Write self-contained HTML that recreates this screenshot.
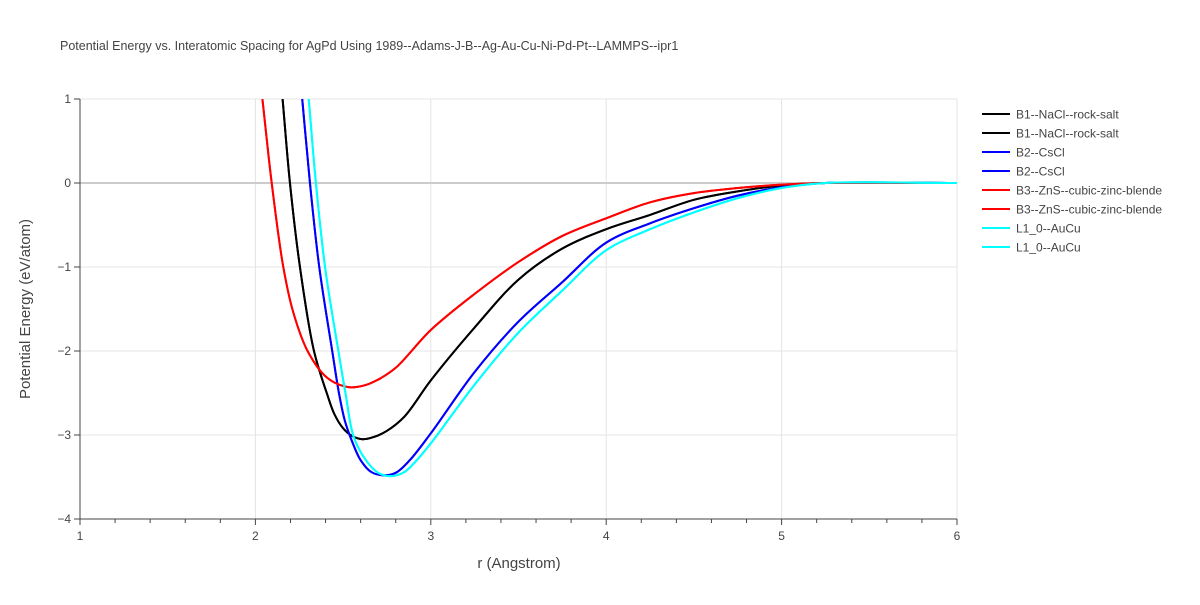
<!DOCTYPE html>
<html><head><meta charset="utf-8">
<style>
body{margin:0;background:#fff;font-family:"Liberation Sans",Arial,sans-serif;}
svg text{font-family:"Liberation Sans",Arial,sans-serif;}
</style></head>
<body>
<svg id="chart" width="1200" height="600">
<text x="60" y="50" font-size="12.5" fill="#444">Potential Energy vs. Interatomic Spacing for AgPd Using 1989--Adams-J-B--Ag-Au-Cu-Ni-Pd-Pt--LAMMPS--ipr1</text>
<g id="grid"></g>
<g id="axes"></g>
<clipPath id="clip"><rect x="80" y="99" width="877" height="420"/></clipPath>
<g id="series" clip-path="url(#clip)"></g>
<g id="legend"></g>
<text x="519" y="568" font-size="15" fill="#444" text-anchor="middle">r (Angstrom)</text>
<text transform="translate(30,309) rotate(-90)" font-size="15" fill="#444" text-anchor="middle">Potential Energy (eV/atom)</text>
</svg>
<script>
const xTicks=[1,2,3,4,5,6];
const yTicks=[1,0,-1,-2,-3,-4];
const seriesNames=["B1--NaCl--rock-salt","B2--CsCl","B3--ZnS--cubic-zinc-blende","L1_0--AuCu"];
const seriesColors=["#000000","#0000ff","#ff0000","#00ffff"];
const b1R=[2.155,2.197,2.254,2.334,2.41,2.45,2.5,2.55,2.61,2.68,2.75,2.85,3,3.25,3.5,3.75,4,4.25,4.5,4.75,5,5.25,6];
const b1E=[1,0,-1,-2,-2.52,-2.75,-2.92,-3.01,-3.05,-3.02,-2.95,-2.78,-2.35,-1.72,-1.15,-0.78,-0.55,-0.38,-0.2,-0.1,-0.03,0,0];
const b2R=[2.267,2.311,2.364,2.438,2.478,2.51,2.55,2.6,2.66,2.73,2.8,2.88,3,3.25,3.5,3.75,4,4.25,4.5,4.75,5,5.25,6];
const b2E=[1,0,-1,-2,-2.52,-2.83,-3.07,-3.3,-3.44,-3.48,-3.45,-3.3,-2.98,-2.25,-1.65,-1.18,-0.71,-0.48,-0.3,-0.15,-0.05,0,0];
const b3R=[2.04,2.093,2.159,2.216,2.30,2.41,2.53,2.62,2.7,2.8,3,3.25,3.5,3.75,4,4.25,4.5,4.75,5,5.25,6];
const b3E=[1,0,-1,-1.54,-2.01,-2.32,-2.43,-2.41,-2.34,-2.2,-1.75,-1.32,-0.94,-0.63,-0.42,-0.23,-0.12,-0.06,-0.02,0,0];
const l10R=[2.304,2.345,2.397,2.473,2.515,2.56,2.63,2.7,2.77,2.85,2.92,3,3.25,3.5,3.75,4,4.25,4.5,4.75,5,5.25,6];
const l10E=[1,0,-1,-2,-2.52,-3.02,-3.3,-3.45,-3.49,-3.44,-3.3,-3.1,-2.4,-1.78,-1.28,-0.8,-0.55,-0.35,-0.18,-0.06,0,0];
const X=v=>80+(v-1)*175.4, Y=v=>183-v*84;
const NS="http://www.w3.org/2000/svg";
function mk(t,a,p){const e=document.createElementNS(NS,t);for(const k in a)e.setAttribute(k,a[k]);p.appendChild(e);return e;}
const grid=document.getElementById('grid'),axes=document.getElementById('axes');
xTicks.forEach(t=>{
 if(t>1){const l=mk('line',{x1:X(t),x2:X(t),y1:99,y2:519,stroke:'#e4e4e4'},grid);
 
 }
 const tx=mk('text',{x:X(t),y:540,'font-size':12,fill:'#444','text-anchor':'middle'},axes);tx.textContent=t;
 
 
});
for(let i=1;i<25;i++){const v=1+i*0.2;if(i%5===0)continue;
 mk('line',{x1:X(v),x2:X(v),y1:519,y2:523,stroke:'#444'},axes);}
xTicks.forEach(t=>mk('line',{x1:X(t),x2:X(t),y1:519,y2:525,stroke:'#444'},axes));
yTicks.forEach(t=>{
 const l=mk('line',{x1:80,x2:957,y1:Y(t),y2:Y(t),stroke:t==0?'#cccccc':'#e4e4e4','stroke-width':t==0?2:1},grid);
 
 
 mk('line',{x1:74,x2:80,y1:Y(t),y2:Y(t),stroke:'#444'},axes);
 const tx=mk('text',{x:71,y:Y(t)+4,'font-size':12,fill:'#444','text-anchor':'end'},axes);tx.textContent=(t<0?'−'+(-t):t);
 
 
});
mk('line',{x1:80,x2:80,y1:99,y2:519,stroke:'#444'},axes);
mk('line',{x1:80,x2:957,y1:519,y2:519,stroke:'#444'},axes);
// centripetal Catmull-Rom in pixel space
function path(R,E){
 const P=R.map((r,i)=>[X(r),Y(E[i])]);const n=P.length;
 const dist=(a,b)=>Math.max(1e-6,Math.pow(Math.hypot(a[0]-b[0],a[1]-b[1]),0.5));
 let s='M'+P[0][0]+','+P[0][1];
 for(let i=0;i<n-1;i++){
  const p0=i>0?P[i-1]:[2*P[0][0]-P[1][0],2*P[0][1]-P[1][1]],p1=P[i],p2=P[i+1],p3=i+2<n?P[i+2]:[2*p2[0]-p1[0],2*p2[1]-p1[1]];
  const d1=dist(p0,p1),d2=dist(p1,p2),d3=dist(p2,p3);
  const c1=[0,1].map(k=>p1[k]+(d2/3)*((p1[k]-p0[k])/d1-(p2[k]-p0[k])/(d1+d2)+(p2[k]-p1[k])/d2));
  const c2=[0,1].map(k=>p2[k]-(d2/3)*((p3[k]-p2[k])/d3-(p3[k]-p1[k])/(d2+d3)+(p2[k]-p1[k])/d2));
  s+=' C'+c1+' '+c2+' '+p2;
 }
 return s;}
const data=[[b1R,b1E],[b2R,b2E],[b3R,b3E],[l10R,l10E]];
const sg=document.getElementById('series'),lg=document.getElementById('legend');
data.forEach((s,i)=>{for(let k=0;k<2;k++){
 const p=mk('path',{d:path(s[0],s[1]),fill:'none',stroke:seriesColors[i],'stroke-width':2,'stroke-linejoin':'round'},sg);
 
 
 const y=114+(i*2+k)*19;
 const g=mk('g',{},lg);
 
 
 mk('line',{x1:982,x2:1010,y1:y,y2:y,stroke:seriesColors[i],'stroke-width':2},g);
 const t=mk('text',{x:1016,y:y+4.5,'font-size':12,fill:'#444'},g);t.textContent=seriesNames[i];
}});
</script>
</body></html>
